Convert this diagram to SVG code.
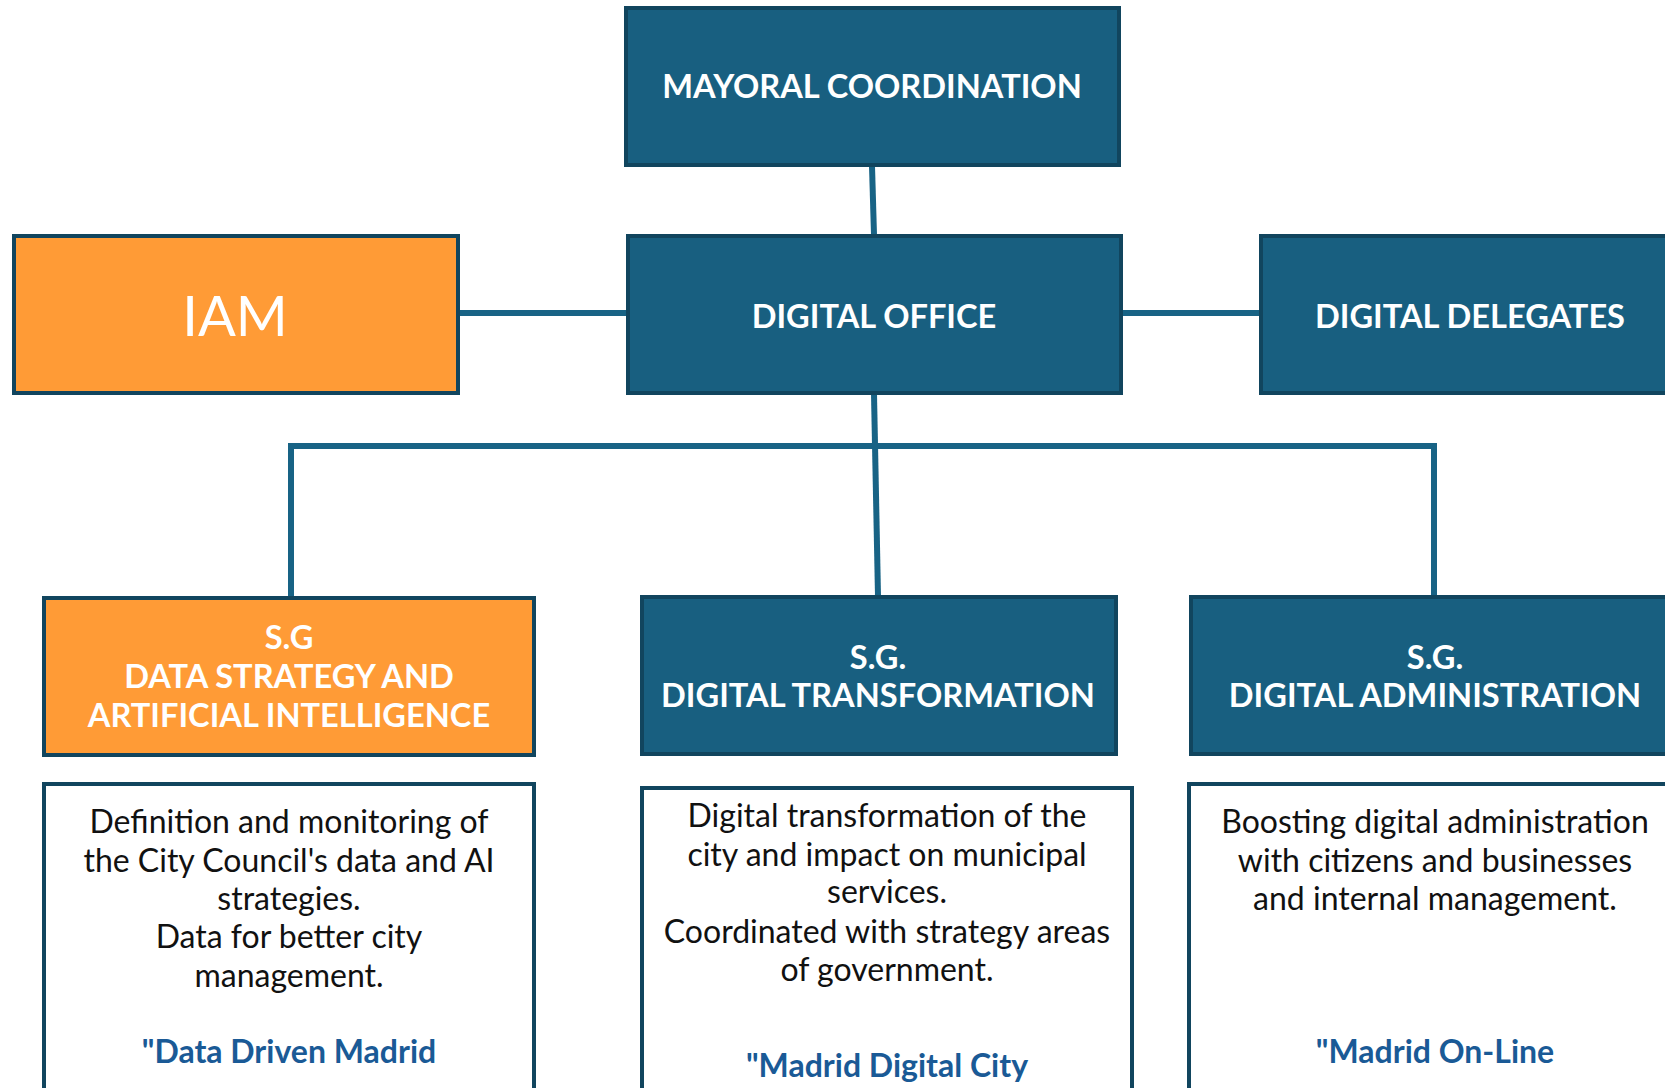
<svg xmlns="http://www.w3.org/2000/svg" width="1665" height="1088" viewBox="0 0 1665 1088">
<style>
.blue{fill:#185f80;stroke:#11455e;stroke-width:4}
.orange{fill:#ff9b36;stroke:#11455e;stroke-width:4}
.desc{fill:#ffffff;stroke:#11455e;stroke-width:4}
.conn{stroke:#186385;stroke-width:6;fill:none}
.t{font-family:Lato,"Liberation Sans",sans-serif;fill:#ffffff;text-anchor:middle;font-weight:bold;font-size:32.6px}
.d{font-family:Lato,"Liberation Sans",sans-serif;fill:#111111;text-anchor:middle;font-size:32px}
.q{font-family:Lato,"Liberation Sans",sans-serif;fill:#1a5a96;text-anchor:middle;font-size:32px;font-weight:bold}
</style>
<rect width="1665" height="1088" fill="#ffffff"/>
<g id="connectors">
<line class="conn" x1="872" y1="166" x2="874" y2="235"/>
<line class="conn" x1="459" y1="313" x2="627" y2="313"/>
<line class="conn" x1="1121" y1="313" x2="1260" y2="313"/>
<line class="conn" x1="874" y1="394" x2="878" y2="596"/>
<polyline class="conn" points="291,597 291,446 1434,446 1434,596"/>
</g>
<g id="mayoral">
<rect class="blue" x="626" y="8" width="493" height="157"/>
<text class="t" x="872" y="98">MAYORAL COORDINATION</text>
</g>
<g id="digital-office">
<rect class="blue" x="628" y="236" width="493" height="157"/>
<text class="t" x="874" y="328">DIGITAL OFFICE</text>
</g>
<g id="iam">
<rect class="orange" x="14" y="236" width="444" height="157"/>
<text class="t" x="235" y="336" style="font-size:56px;font-weight:normal">IAM</text>
</g>
<g id="digital-delegates">
<rect class="blue" x="1261" y="236" width="440" height="157"/>
<text class="t" x="1470" y="328">DIGITAL DELEGATES</text>
</g>
<g id="sg-data">
<rect class="orange" x="44" y="598" width="490" height="157"/>
<text class="t" x="289" y="649">S.G</text>
<text class="t" x="289" y="688">DATA STRATEGY AND</text>
<text class="t" x="289" y="727">ARTIFICIAL INTELLIGENCE</text>
</g>
<g id="sg-transformation">
<rect class="blue" x="642" y="597" width="474" height="157"/>
<text class="t" x="878" y="669">S.G.</text>
<text class="t" x="878" y="707">DIGITAL TRANSFORMATION</text>
</g>
<g id="sg-administration">
<rect class="blue" x="1191" y="597" width="510" height="157"/>
<text class="t" x="1435" y="669">S.G.</text>
<text class="t" x="1435" y="707">DIGITAL ADMINISTRATION</text>
</g>
<g id="desc-data">
<rect class="desc" x="44" y="784" width="490" height="320"/>
<text class="d" x="289" y="833">Definition and monitoring of</text>
<text class="d" x="289" y="872">the City Council's data and AI</text>
<text class="d" x="289" y="910">strategies.</text>
<text class="d" x="289" y="948">Data for better city</text>
<text class="d" x="289" y="987">management.</text>
<text class="q" x="289" y="1063">"Data Driven Madrid</text>
</g>
<g id="desc-transformation">
<rect class="desc" x="642" y="788" width="490" height="320"/>
<text class="d" x="887" y="827">Digital transformation of the</text>
<text class="d" x="887" y="866">city and impact on municipal</text>
<text class="d" x="887" y="903">services.</text>
<text class="d" x="887" y="943">Coordinated with strategy areas</text>
<text class="d" x="887" y="981">of government.</text>
<text class="q" x="887" y="1077">"Madrid Digital City</text>
</g>
<g id="desc-administration">
<rect class="desc" x="1189" y="784" width="520" height="320"/>
<text class="d" x="1435" y="833">Boosting digital administration</text>
<text class="d" x="1435" y="872">with citizens and businesses</text>
<text class="d" x="1435" y="910">and internal management.</text>
<text class="q" x="1435" y="1063">"Madrid On-Line</text>
</g>
</svg>
